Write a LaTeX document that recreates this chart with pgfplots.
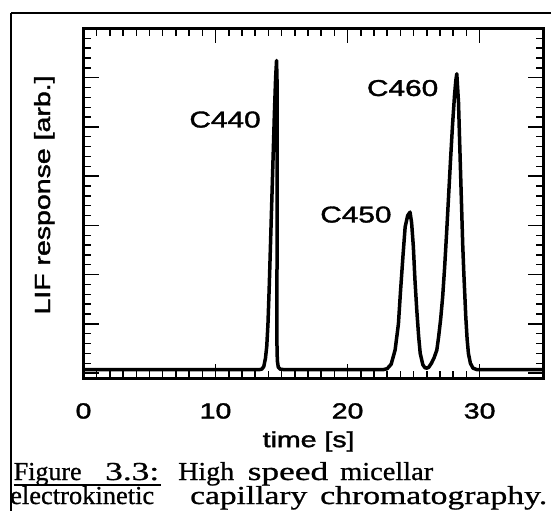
\documentclass[border=0pt]{standalone}
\usepackage{pgfplots}
\pgfplotsset{compat=1.18}
\usepackage{fontspec}
\setmainfont{Liberation Serif}[FakeBold=0.8]
\newfontfamily\hv{Liberation Sans}[FakeBold=1.5]
\newcommand{\wide}[1]{\scalebox{1.3}[1]{#1}}
\newcommand{\capw}[2]{\resizebox{#1bp}{\height}{#2}}

\begin{document}
\begin{tikzpicture}[x=1bp,y=1bp]
% outer frame
\draw[line width=2.5bp] (11,-13) -- (620,-13);
\draw[line width=2.5bp] (11,-13) -- (11,-620);

% data axis with x ticks
\begin{axis}[
  at={(83.5bp,-378.5bp)}, anchor=south west,
  scale only axis, width=459.5bp, height=350bp,
  xmin=0, xmax=34.8, ymin=-0.11, ymax=7,
  xtick={0,10,20,30}, minor x tick num=9,
  xticklabels={\wide{0},\wide{10},\wide{20},\wide{30}},
  ytick=\empty,
  tick align=inside, xtick pos=both,
  major tick length=15bp, minor tick length=8bp,
  tick style={black, line width=1.5bp},
  axis line style={line width=3bp},
  xticklabel style={font=\hv\fontsize{22}{22}\selectfont, inner sep=0pt, anchor=north, yshift=-24.5bp},
  clip=false,
]
\addplot[black, line width=3.5bp, line join=round] coordinates {
(0,0.07) (13.3,0.07) (13.5,0.08) (13.65,0.13) (13.78,0.3) (13.88,0.55)
(13.97,1.0) (14.06,1.7) (14.16,2.6) (14.26,3.5) (14.36,4.4) (14.46,5.3)
(14.55,6.0) (14.62,6.35) (14.66,5.9) (14.67,4.5) (14.66,3.0) (14.65,1.5)
(14.65,0.6) (14.68,0.25) (14.75,0.12) (14.9,0.08) (15.2,0.07)
(22.7,0.07) (23.0,0.09) (23.3,0.18) (23.6,0.47) (23.85,1.0) (24.0,1.63)
(24.2,2.4) (24.36,2.97) (24.55,3.2) (24.73,3.27) (24.85,3.05) (24.98,2.57)
(25.1,1.9) (25.24,1.28) (25.38,0.75) (25.5,0.4) (25.7,0.17) (25.85,0.11)
(26.0,0.1) (26.15,0.12) (26.35,0.2) (26.55,0.31) (26.76,0.47) (26.9,0.75)
(27.05,1.1) (27.2,1.55) (27.35,2.15) (27.5,2.85) (27.65,3.6) (27.8,4.35)
(27.95,5.05) (28.1,5.65) (28.2,5.95) (28.27,6.08) (28.4,5.5) (28.52,4.4)
(28.62,3.5) (28.72,2.6) (28.8,2.05) (28.87,1.63) (28.95,1.15) (29.05,0.7)
(29.15,0.4) (29.3,0.2) (29.5,0.1) (29.8,0.07) (34.8,0.07)
};
\node[font=\hv\fontsize{23}{23}\selectfont] at (axis cs:10.72,5.15) {\wide{C440}};
\node[font=\hv\fontsize{23}{23}\selectfont] at (axis cs:24.17,5.79) {\wide{C460}};
\node[font=\hv\fontsize{23}{23}\selectfont] at (axis cs:20.63,3.22) {\wide{C450}};
\node[font=\hv\fontsize{22}{22}\selectfont, anchor=base, inner sep=0pt] at (axis cs:17.05,-1.504) {\wide{time [s]}};
\end{axis}

% y ticks axis
\begin{axis}[
  at={(83.5bp,-378.5bp)}, anchor=south west,
  scale only axis, width=459.5bp, height=350bp,
  xmin=0, xmax=34.8, ymin=-0.11, ymax=7,
  xtick=\empty,
  ytick={0,1,2,3,4,5,6,7}, minor y tick num=4,
  yticklabels={},
  tick align=inside, ytick pos=both,
  major tick length=15bp, minor tick length=7bp,
  tick style={black, line width=1.4bp},
  axis line style={line width=3bp},
]
\addplot[draw=none] coordinates {(0,0)};
\end{axis}

% y label
\node[font=\hv\fontsize{22}{22}\selectfont, rotate=90, anchor=base, inner sep=0pt] at (50,-195) {\wide{LIF response [arb.]}};

% caption
\begin{scope}[every node/.style={anchor=base west, inner sep=0pt, font=\fontsize{26}{26}\selectfont}]
\node at (13.6,-480) {\capw{67.8}{Figure}};
\node at (105,-480) {\capw{54}{3.3:}};
\node at (178,-480) {\capw{56}{High}};
\node at (247.5,-480) {\capw{80.5}{speed}};
\node at (340,-480) {\capw{93}{micellar}};
\node at (10,-504) {\capw{144}{electrokinetic}};
\node at (190,-504) {\capw{117}{capillary}};
\node at (320,-504) {\capw{227}{chromatography.}};
\end{scope}
\draw[line width=1.3bp] (13.6,-485) -- (161,-485);

\pgfresetboundingbox
\path[use as bounding box] (0,0) rectangle (551,-511);
\end{tikzpicture}
\end{document}
